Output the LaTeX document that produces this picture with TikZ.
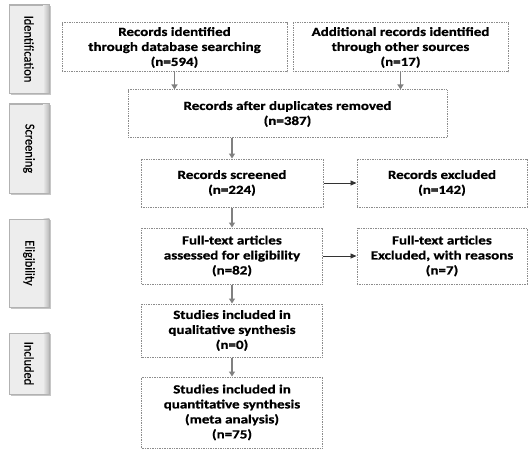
\documentclass[tikz,border=0pt]{standalone}
\usepackage{fontspec}
\setmainfont{Carlito}[FakeStretch=1.2, BoldFeatures={FakeBold=0.8}]
\newfontfamily\labfont{Carlito}[FakeStretch=0.92, FakeBold=0.3]
\usetikzlibrary{arrows.meta}
\definecolor{arrgray}{HTML}{808080}
\definecolor{dotgray}{HTML}{8C8C8C}
\tikzset{
  box/.style={draw=dotgray, line width=1pt, dash pattern=on 1pt off 0.7pt,
    fill=white, align=center, inner sep=0pt,
    font=\fontsize{12.5}{15}\selectfont\bfseries, text=black},
  stage/.style={draw=gray!60, line width=0.5pt, fill=gray!14,
    inner sep=0pt, minimum width=40pt},
  stagetext/.style={rotate=-90, font=\labfont\fontsize{13.5}{15}\selectfont, text=black},
  vflow/.style={draw=arrgray, line width=1.3pt, -{Triangle[length=5pt,width=6pt]}},
  hflow/.style={draw=black!80, line width=0.8pt, -{Triangle[length=6pt,width=5pt]}}
}
\begin{document}
\begin{tikzpicture}[x=1pt,y=-1pt]
\useasboundingbox (0,0) rectangle (529,449);
% stage labels
\node[stage, minimum height=88pt] (sid) at (29,49) {};
\node[stage, minimum height=89pt] (ssc) at (29,148.5) {};
\node[stage, minimum height=88pt] (sel) at (29,263) {};
\node[stage, minimum height=61pt] (sin) at (29,363.5) {};
\foreach \n in {sid,ssc,sel,sin}{
  \shade[left color=gray!16, right color=gray!55] ([xshift=-6pt]\n.north east) rectangle (\n.south east);
  \draw[gray!60, line width=0.5pt] (\n.north west) rectangle (\n.south east);
  \draw[gray!45, line width=1pt] ([xshift=1pt,yshift=-1.5pt]\n.north east) -- ([xshift=1pt,yshift=-1pt]\n.south east) -- ([xshift=2pt,yshift=-1pt]\n.south west);
}
\node[stagetext] at (sid) {Identification};
\node[stagetext] at (ssc) {Screening};
\node[stagetext] at (sel) {Eligibility};
\node[stagetext] at (sin) {Included};
% boxes
\node[box, minimum width=225pt, minimum height=49pt] (b1) at (174.5,47.5)
  {Records identified\\through database searching\\(n=594)};
\node[box, minimum width=215pt, minimum height=49pt] (b2) at (400.5,47.5)
  {Additional records identified\\through other sources\\(n=17)};
\node[box, minimum width=319pt, minimum height=48pt] (b3) at (287.5,114)
  {Records after duplicates removed\\(n=387)};
\node[box, minimum width=182pt, minimum height=48pt] (b4) at (232,183)
  {Records screened\\(n=224)};
\node[box, minimum width=170pt, minimum height=48pt] (b5) at (442,183)
  {Records excluded\\(n=142)};
\node[box, minimum width=181pt, minimum height=56pt] (b6) at (232,256)
  {Full-text articles\\assessed for eligibility\\(n=82)};
\node[box, minimum width=170pt, minimum height=56pt] (b7) at (442,256)
  {Full-text articles\\Excluded, with reasons\\(n=7)};
\node[box, minimum width=181pt, minimum height=53pt] (b8) at (232,330.5)
  {Studies included in\\qualitative synthesis\\(n=0)};
\node[box, minimum width=181pt, minimum height=71pt] (b9) at (232,412.5)
  {Studies included in\\quantitative synthesis\\(meta analysis)\\(n=75)};
% connectors
\draw[vflow] (b1.south) -- (b1.south |- b3.north);
\draw[vflow] (b2.south) -- (b2.south |- b3.north);
\draw[vflow] (b4.north |- b3.south) -- (b4.north);
\draw[vflow] (b4.south) -- (b6.north);
\draw[vflow] (b6.south) -- (b8.north);
\draw[vflow] (b8.south) -- (b9.north);
\draw[hflow] (b4.east) -- (b5.west);
\draw[hflow] (b6.east) -- (b7.west);
\end{tikzpicture}
\end{document}
